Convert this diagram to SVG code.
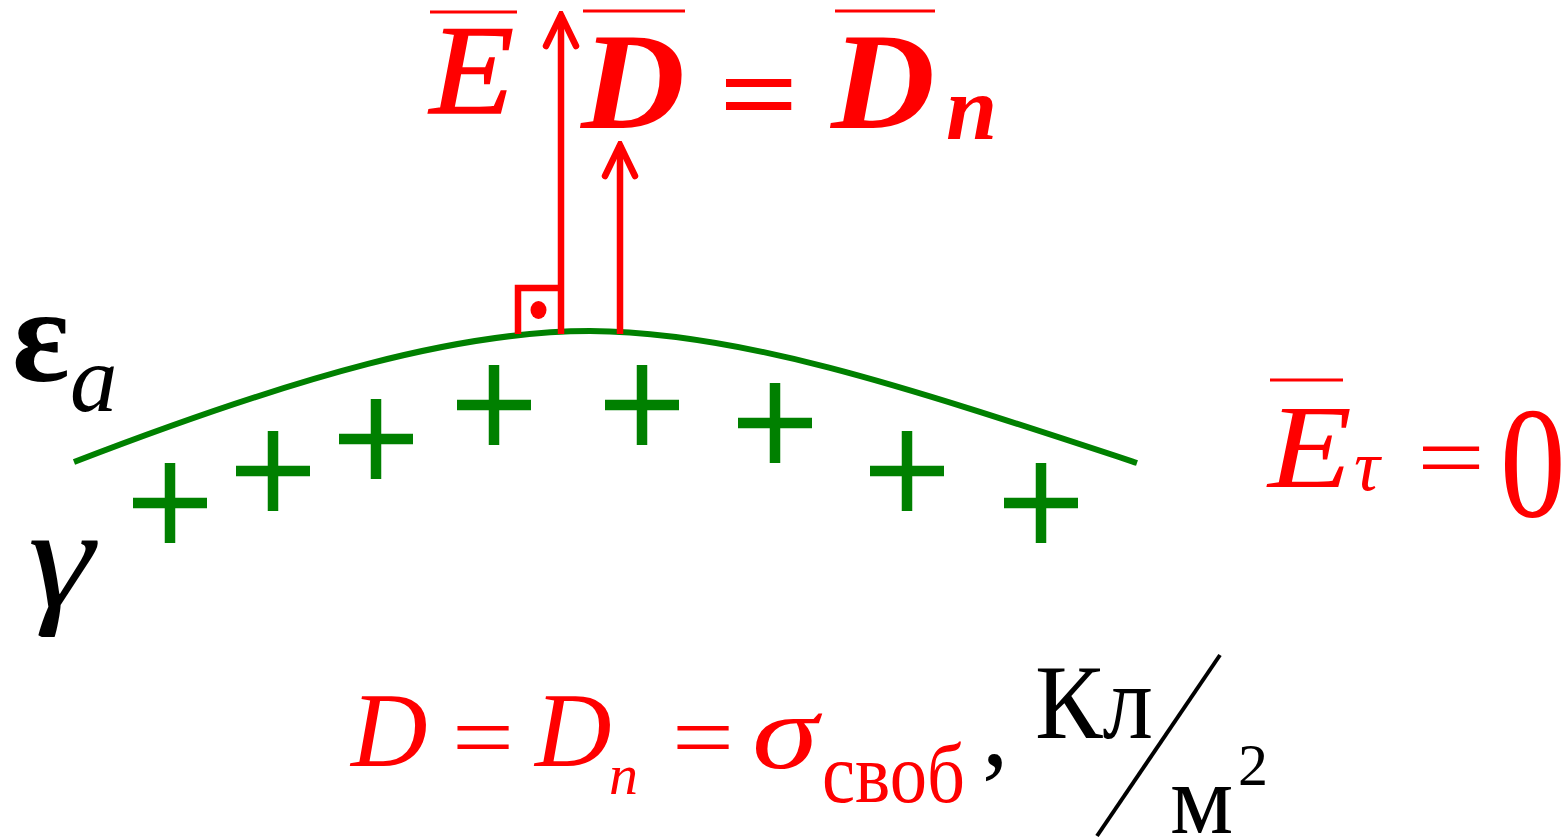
<svg xmlns="http://www.w3.org/2000/svg" width="1568" height="840" viewBox="0 0 1568 840">
<style>
.red{fill:#FF0000}
.blk{fill:#000000}
.ser{font-family:"Liberation Serif","Times New Roman",serif}
.it{font-style:italic}
.bd{font-weight:bold}
.ovl{stroke:#FF0000;stroke-width:3;fill:none}
.plus{stroke:#008000;stroke-width:10.5;fill:none}
.vec{stroke:#FF0000;stroke-width:6.5;fill:none}
</style>
<defs>
<marker id="ah" viewBox="-40 -20 44 40" markerWidth="44" markerHeight="40" refX="0" refY="0" orient="auto" markerUnits="userSpaceOnUse">
<path d="M-31,-15 L0,0 L-31,15" stroke="#FF0000" stroke-width="6.5" stroke-linecap="round" stroke-linejoin="miter" fill="none"/>
</marker>
<g id="pl"><path class="plus" d="M-37,0 H37 M0,-40 V40"/></g>
</defs>
<rect width="1568" height="840" fill="#FFFFFF"/>

<g id="surface">
<path d="M74,462 C300,375 460,331 590,331 C740,332 900,385 1137,463" stroke="#008000" stroke-width="6" fill="none"/>
</g>

<g id="charges">
<use href="#pl" x="170" y="503"/>
<use href="#pl" x="273" y="471"/>
<use href="#pl" x="376" y="439"/>
<use href="#pl" x="494" y="405"/>
<use href="#pl" x="642" y="405"/>
<use href="#pl" x="775" y="423"/>
<use href="#pl" x="907" y="471"/>
<use href="#pl" x="1041" y="503"/>
</g>

<g id="connectors">
<line class="vec" x1="561" y1="334" x2="561" y2="15" marker-end="url(#ah)"/>
<line class="vec" x1="620" y1="334" x2="620" y2="145" marker-end="url(#ah)"/>
</g>

<g id="right-angle">
<path class="vec" d="M518,334 V288 H558"/>
<ellipse cx="538.5" cy="310" rx="8" ry="9" class="red"/>
</g>

<g id="label-E-top">
<line class="ovl" x1="430" y1="12" x2="517" y2="12"/>
<text class="red ser it" x="430" y="113" font-size="128" textLength="84" lengthAdjust="spacingAndGlyphs" stroke="#FF0000" stroke-width="1.5">E</text>
</g>

<g id="label-D-eq-Dn">
<line class="ovl" x1="583" y1="11" x2="685" y2="11"/>
<text class="red ser it bd" x="581" y="128" font-size="137" textLength="104" lengthAdjust="spacingAndGlyphs">D</text>
<text class="red ser bd" x="719" y="133" font-size="115" textLength="80" lengthAdjust="spacingAndGlyphs">=</text>
<line class="ovl" x1="835" y1="11" x2="935" y2="11"/>
<text class="red ser it bd" x="831" y="128" font-size="137" textLength="104" lengthAdjust="spacingAndGlyphs">D</text>
<text class="red ser it bd" x="946" y="139" font-size="92">n</text>
</g>

<g id="label-eps">
<text class="blk ser bd" x="12" y="381" font-size="135">ε</text>
<text class="blk ser it" x="70" y="411" font-size="95">a</text>
</g>

<g id="label-gamma">
<text class="blk ser it" x="28" y="606" font-size="145" textLength="66" lengthAdjust="spacingAndGlyphs">γ</text>
</g>

<g id="label-Et">
<line class="ovl" x1="1270" y1="380" x2="1343" y2="380" stroke-width="4"/>
<text class="red ser it" x="1268" y="487" font-size="118" textLength="84" lengthAdjust="spacingAndGlyphs">E</text>
<text class="red ser it" x="1354" y="490" font-size="72">τ</text>
<text class="red ser" x="1417" y="487" font-size="88" textLength="68" lengthAdjust="spacingAndGlyphs">=</text>
<text class="red ser" transform="translate(1500,516) scale(0.83,1)" font-size="158">0</text>
</g>

<g id="formula">
<text class="red ser it" x="351" y="766" font-size="106">D</text>
<text class="red ser" x="452" y="768" font-size="90" textLength="62" lengthAdjust="spacingAndGlyphs">=</text>
<text class="red ser it" x="535" y="766" font-size="106">D</text>
<text class="red ser it" x="609" y="794" font-size="58">n</text>
<text class="red ser" x="672" y="768" font-size="90" textLength="62" lengthAdjust="spacingAndGlyphs">=</text>
<text class="red ser it" x="752" y="768" font-size="106" textLength="66" lengthAdjust="spacingAndGlyphs">σ</text>
<text class="red ser" x="822" y="802" font-size="84" textLength="143" lengthAdjust="spacingAndGlyphs">своб</text>
<text class="blk ser" x="982" y="765" font-size="106">,</text>
<text class="blk ser" x="1035" y="738" font-size="106" textLength="118" lengthAdjust="spacingAndGlyphs">Кл</text>
<line x1="1220" y1="655" x2="1097" y2="836" stroke="#000000" stroke-width="4"/>
<text class="blk ser" x="1170" y="833" font-size="100">м</text>
<text class="blk ser" x="1238" y="785" font-size="60">2</text>
</g>
</svg>
